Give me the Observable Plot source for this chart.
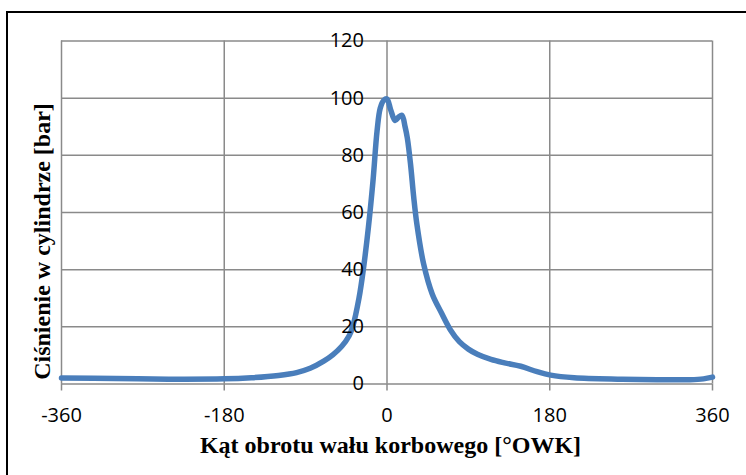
<!DOCTYPE html>
<html>
<head>
<meta charset="utf-8">
<script src="https://cdn.jsdelivr.net/npm/d3@7"></script>
<script src="https://cdn.jsdelivr.net/npm/@observablehq/plot@0.6"></script>
<style>
  html, body { margin: 0; padding: 0; background: #fff; overflow: hidden; }
  #wrap { position: relative; width: 746px; height: 475px; }
  #border { position: absolute; left: 6px; top: 11px; width: 800px; height: 600px;
            border-left: 2px solid #000; border-top: 2px solid #000; pointer-events: none; }
</style>
</head>
<body>
<div id="wrap"><div id="border"></div></div>
<script>
// Crank angle [°OWK]
const angle = [-360, -300, -240, -180, -150, -120, -100, -85, -70, -60, -50, -42, -38, -31, -26, -20.5, -15.5, -11, -7.5, -3.5, 0, 4, 9, 13, 16.5, 20, 22.5, 26, 29.5, 33, 40.5, 50, 60, 70, 80, 90, 100, 115, 130, 148, 166, 181, 207, 260, 300, 335, 350, 360];
// Cylinder pressure [bar]
const pressure = [2.1, 1.9, 1.7, 1.8, 2.2, 3.0, 4.0, 5.5, 8.0, 10.2, 13.2, 16.8, 20, 30, 40.5, 55, 71, 88.5, 96.5, 99.3, 99.7, 96, 92.2, 93.4, 94, 90, 86, 77, 65.5, 56, 42, 31.5, 25, 19, 14.8, 12.2, 10.4, 8.6, 7.4, 6.2, 4.3, 3.1, 2.2, 1.7, 1.5, 1.5, 1.8, 2.4];

const xTicks = [-360, -180, 0, 180, 360];
const yTicks = [0, 20, 40, 60, 80, 100, 120];
const xTitle = "Kąt obrotu wału korbowego [°OWK]";
const yTitle = "Ciśnienie w cylindrze [bar]";

const data = angle.map((a, i) => ({angle: a, pressure: pressure[i]}));
const grid = "#8a8a8a";
const serif = "'Liberation Serif', 'Times New Roman', serif";

const chart = Plot.plot({
  width: 746,
  height: 475,
  marginLeft: 61,
  marginRight: 34,
  marginTop: 40.5,
  marginBottom: 91.5,
  style: {fontFamily: "'Open Sans', sans-serif", fontSize: "20px", background: "transparent", color: "#000"},
  x: {domain: [-360, 360]},
  y: {domain: [0, 120], axis: null},
  marks: [
    Plot.ruleY(yTicks, {y: d => d, stroke: grid, strokeWidth: 1.5}),
    Plot.ruleX(xTicks, {x: d => d, stroke: grid, strokeWidth: 1.5}),
    Plot.axisX({ticks: xTicks, tickSize: 7, tickPadding: 17, stroke: grid, strokeWidth: 1.5, fill: "#000", label: null, tickFormat: d => String(d)}),
    Plot.line(data, {x: "angle", y: "pressure", stroke: "#4a7ebb", strokeWidth: 5.5, curve: "catmull-rom"}),
    Plot.text(yTicks, {x: 0, y: d => d, text: d => String(d), textAnchor: "end", lineAnchor: "middle", dx: -23, fill: "#000"}),
    Plot.text([xTitle], {frameAnchor: "bottom", text: d => d, textAnchor: "middle", lineAnchor: "middle", dx: 3.5, dy: 61, fontFamily: serif, fontSize: 24, fontWeight: "bold", fill: "#000"}),
    Plot.text([yTitle], {frameAnchor: "left", text: d => d, textAnchor: "middle", lineAnchor: "middle", rotate: -90, dx: -19.5, dy: 29, fontFamily: serif, fontSize: 24, fontWeight: "bold", fill: "#000"})
  ]
});
document.getElementById("wrap").prepend(chart);
</script>
</body>
</html>
